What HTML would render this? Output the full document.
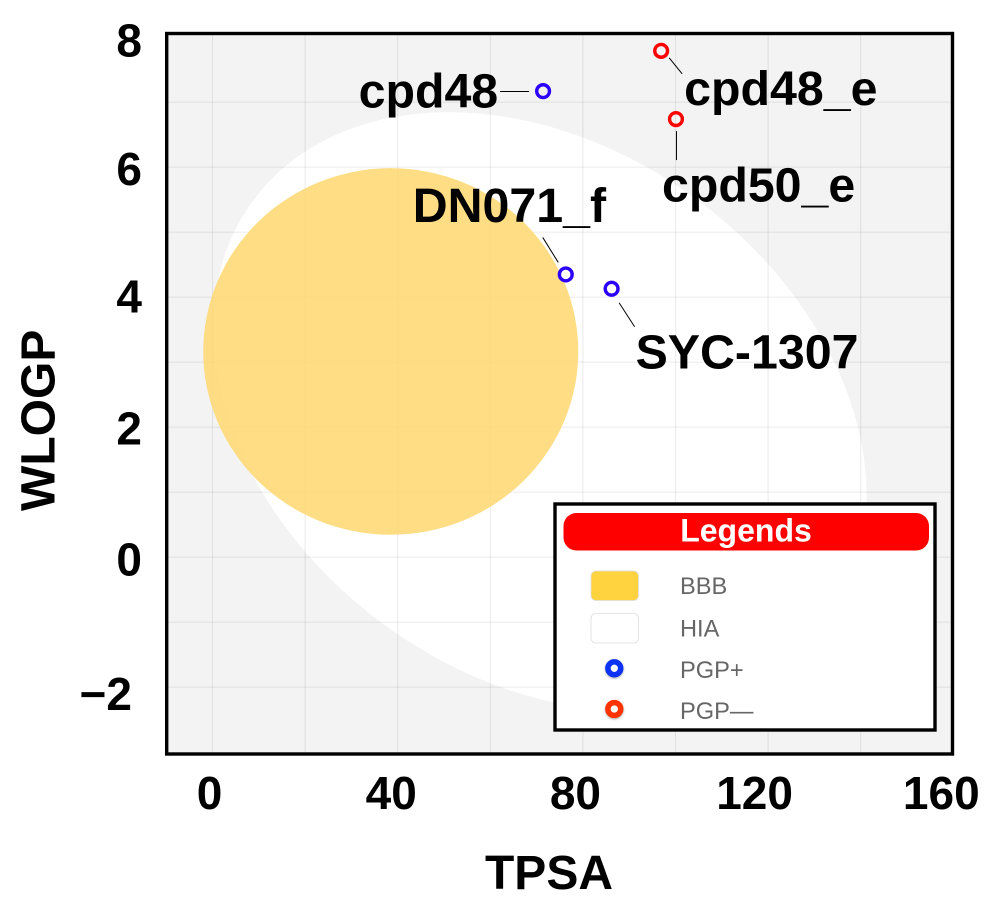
<!DOCTYPE html>
<html lang="en">
<head>
<meta charset="utf-8">
<title>BOILED-Egg chart</title>
<style>
  html, body { margin: 0; padding: 0; background: #fff; }
  body { width: 998px; height: 921px; overflow: hidden; }
  svg { display: block; font-family: "Liberation Sans", Arial, sans-serif; }
  .b { font-weight: 700; fill: #000; }
  .legend-text { font-size: 23.6px; fill: #666; }
</style>
</head>
<body>
<svg id="chart" xmlns="http://www.w3.org/2000/svg" width="998" height="921" viewBox="0 0 998 921">
  <rect x="166" y="33" width="787" height="721" fill="#f3f3f3"/>
  <g id="hiaLayer"></g>
  <g id="grid"></g>
  <g id="bbbLayer"></g>
  <g id="leaders"></g>
  <g id="points"></g>
  <g id="pointLabels"></g>
  <rect x="166.7" y="33.5" width="785.8" height="720.5" fill="none" stroke="#000" stroke-width="3.4"/>
  <g id="xTicks"></g>
  <g id="yTicks"></g>
  <text class="b" x="549" y="889" text-anchor="middle" font-size="48">TPSA</text>
  <text class="b" transform="translate(54.5,420.3) rotate(-90)" text-anchor="middle" font-size="48">WLOGP</text>

  <g>
    <rect x="555" y="504" width="380" height="226" fill="#fff" stroke="#000" stroke-width="3.4"/>
    <rect x="563.5" y="513" width="365.5" height="37.5" rx="13" fill="#ff0000"/>
    <text x="746" y="541.5" text-anchor="middle" font-size="32" font-weight="700" fill="#fff">Legends</text>
    <rect x="591" y="571" width="47.5" height="29.5" rx="5" fill="#ffd23f" stroke="#ddd" stroke-width="0.8"/>
    <text class="legend-text" x="680" y="594">BBB</text>
    <rect x="591" y="613.5" width="47.5" height="29.5" rx="5" fill="#fff" stroke="#ddd" stroke-width="0.8"/>
    <text class="legend-text" x="680" y="636.5">HIA</text>
    <circle cx="614.3" cy="668.3" r="6.4" fill="#fff" stroke="#0b32f5" stroke-width="5.5" style="filter:drop-shadow(0 1px 1px rgba(0,0,0,.35))"/>
    <text class="legend-text" x="680" y="678">PGP+</text>
    <circle cx="614.3" cy="709" r="6.4" fill="#fff" stroke="#ff3300" stroke-width="5.5" style="filter:drop-shadow(0 1px 1px rgba(0,0,0,.35))"/>
    <text class="legend-text" x="680" y="719">PGP—</text>
  </g>
</svg>

<script>
// ---- chart data ----
const compoundNames = ["cpd48", "cpd48_e", "cpd50_e", "DN071_f", "SYC-1307"];
const tpsaValues = [71.4, 96.9, 100.1, 76.3, 86.2];
const wlogpValues = [7.17, 7.79, 6.74, 4.35, 4.13];
const pgpClasses = ["plus", "minus", "minus", "plus", "plus"];
const xTickValues = [0, 40, 80, 120, 160];
const xTickLabels = ["0", "40", "80", "120", "160"];
const yTickValues = [8, 6, 4, 2, 0, -2];
const yTickLabels = ["8", "6", "4", "2", "0", "\u22122"];
const xGridValues = [0, 20, 40, 60, 80, 100, 120, 140];
const yGridValues = [-2, -1, 0, 1, 2, 3, 4, 5, 6, 7];
const bbbRegion = [38.5, 3.165, 40.5, 2.82];
const hiaRegion = [70.7, 2.24, 76.9, 4.06];

// ---- axis functions ----
const xScale = v => 212.5 + v * 4.63;
const yScale = v => 557.2 - v * 65;
// tick labels in the source are hand-placed and sit slightly off the grid
const xTickNudge = { 0: 1.5, 40: 0, 80: 1, 120: -3, 160: 0.5 };
const yTickNudge = { 8: 0, 6: -2, 4: -5.5, 2: -4, 0: -4, "-2": 0 };
const xTickPos = v => 208 + v * 4.58 + (xTickNudge[v] || 0);
const yTickPos = v => 56.5 + (8 - v) * 65.35 + (yTickNudge[v] || 0);

const NS = "http://www.w3.org/2000/svg";
function make(tag, parentId, attrs) {
  const el = document.createElementNS(NS, tag);
  for (const k in attrs) el.setAttribute(k, attrs[k]);
  document.getElementById(parentId).appendChild(el);
  return el;
}

// regions
const hia = make("ellipse", "hiaLayer", {
  cx: xScale(hiaRegion[0]), cy: yScale(hiaRegion[1]),
  rx: hiaRegion[2] * 4.63, ry: hiaRegion[3] * 65,
  fill: "#fff",
  transform: "rotate(36.3 " + xScale(hiaRegion[0]) + " " + yScale(hiaRegion[1]) + ")"
});



const bbb = make("ellipse", "bbbLayer", {
  cx: xScale(bbbRegion[0]), cy: yScale(bbbRegion[1]),
  rx: bbbRegion[2] * 4.63, ry: bbbRegion[3] * 65,
  fill: "#fed770",
  "fill-opacity": 0.85
});



// grid
xGridValues.forEach(v => {
  const l = make("line", "grid", { x1: xScale(v), x2: xScale(v), y1: 35, y2: 752, stroke: "rgba(0,0,0,0.07)", "stroke-width": 1.2 });
  
  
});
yGridValues.forEach(v => {
  const l = make("line", "grid", { x1: 168, x2: 951, y1: yScale(v), y2: yScale(v), stroke: "rgba(0,0,0,0.07)", "stroke-width": 1.2 });
  
  
});

// ticks
xTickValues.forEach((v, i) => {
  const t = make("text", "xTicks", { class: "b", x: xTickPos(v), y: 809, "text-anchor": "middle", "font-size": 46 });
  t.textContent = xTickLabels[i];
  
  
});
yTickValues.forEach((v, i) => {
  const t = make("text", "yTicks", { class: "b", x: v < 0 ? 132 : 142, y: yTickPos(v), "text-anchor": "end", "font-size": 46 });
  t.textContent = yTickLabels[i];
  
  
});

// points, leader lines and labels (label placement is relative to each point)
const markerColor = { plus: "#2b00ff", minus: "#ff0000" };
const labelPlacement = {
  "cpd48":    { dx: -184.5, dy: 16.5, lx1: -43, ly1: 0.35, lx2: -14, ly2: 0.35 },
  "cpd48_e":  { dx: 23,   dy: 54,   lx1: 8,   ly1: 7,  lx2: 21,  ly2: 23 },
  "cpd50_e":  { dx: -14,  dy: 82.5, lx1: 0.5, ly1: 12, lx2: 0.5, ly2: 41 },
  "DN071_f":  { dx: -153, dy: -52.5, lx1: -23, ly1: -37, lx2: -7.5, ly2: -12 },
  "SYC-1307": { dx: 24,   dy: 79.5, lx1: 7.5, ly1: 14, lx2: 23,  ly2: 38 }
};
compoundNames.forEach((name, i) => {
  const px = xScale(tpsaValues[i]);
  const py = yScale(wlogpValues[i]);
  const p = labelPlacement[name];

  const leader = make("line", "leaders", { x1: px + p.lx1, y1: py + p.ly1, x2: px + p.lx2, y2: py + p.ly2, stroke: "#000", "stroke-width": 1 });
  
  

  const c = make("circle", "points", { cx: px, cy: py, r: 6.4, fill: "none", stroke: markerColor[pgpClasses[i]], "stroke-width": 3.4 });
  
  

  const t = make("text", "pointLabels", { class: "b", x: px + p.dx, y: py + p.dy, "font-size": 48.3 });
  t.textContent = name;
  
  
});
</script>
</body>
</html>
